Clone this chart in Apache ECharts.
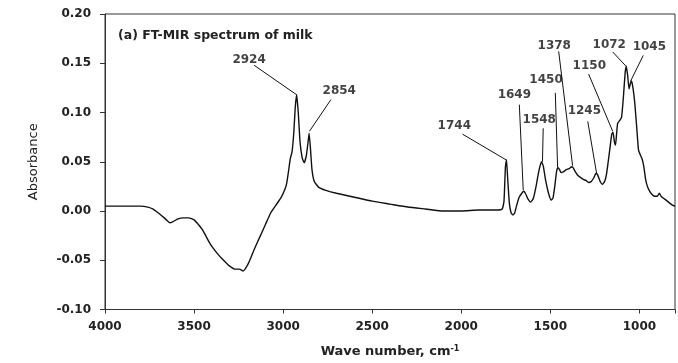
<!DOCTYPE html>
<html>
<head>
<meta charset="utf-8">
<script src="https://cdn.jsdelivr.net/npm/echarts@6/dist/echarts.min.js"></script>
<style>
html,body{margin:0;padding:0;background:#fff;overflow:hidden;}
#chart{width:678px;height:363px;}
</style>
</head>
<body>
<div id="chart"></div>
<script>
// Spectrum (wavenumber cm-1, absorbance)
const waveNumbers = [4000,3900,3800,3760,3730,3700,3680,3655,3635,3620,3590,3560,3530,3500,3470,3450,3420,3400,3370,3340,3300,3270,3245,3225,3200,3180,3160,3130,3100,3070,3040,3010,2990,2980,2970,2960,2950,2940,2932,2924,2915,2905,2893,2882,2870,2860,2854,2846,2838,2825,2800,2760,2700,2600,2500,2400,2300,2200,2100,2000,1900,1800,1770,1760,1752,1746,1740,1730,1720,1710,1700,1690,1675,1660,1650,1640,1625,1610,1595,1580,1565,1550,1540,1525,1510,1495,1485,1475,1465,1457,1448,1440,1425,1410,1395,1380,1372,1360,1345,1330,1315,1300,1285,1270,1255,1245,1235,1220,1208,1195,1185,1175,1165,1155,1148,1140,1134,1128,1122,1110,1100,1090,1080,1074,1066,1058,1050,1044,1036,1026,1015,1005,995,985,975,965,955,945,930,915,900,888,878,865,850,830,815,800];
const absorbance = [0.005,0.005,0.005,0.004,0.002,-0.002,-0.005,-0.009,-0.012,-0.011,-0.008,-0.007,-0.007,-0.009,-0.015,-0.020,-0.030,-0.036,-0.043,-0.049,-0.056,-0.059,-0.059,-0.061,-0.055,-0.047,-0.038,-0.026,-0.014,-0.002,0.006,0.014,0.022,0.028,0.040,0.053,0.060,0.080,0.105,0.118,0.100,0.070,0.054,0.049,0.056,0.070,0.079,0.062,0.042,0.030,0.024,0.021,0.018,0.014,0.010,0.007,0.004,0.002,0.000,0.000,0.001,0.001,0.002,0.010,0.045,0.052,0.035,0.008,-0.002,-0.004,-0.002,0.005,0.014,0.018,0.020,0.018,0.012,0.009,0.013,0.025,0.040,0.050,0.046,0.030,0.018,0.011,0.013,0.025,0.040,0.044,0.042,0.039,0.040,0.042,0.043,0.045,0.044,0.040,0.036,0.034,0.032,0.031,0.029,0.030,0.034,0.038,0.037,0.030,0.027,0.030,0.037,0.050,0.064,0.078,0.080,0.070,0.067,0.078,0.089,0.092,0.095,0.115,0.140,0.147,0.138,0.124,0.130,0.132,0.125,0.110,0.085,0.062,0.057,0.053,0.045,0.032,0.025,0.021,0.017,0.015,0.015,0.018,0.015,0.013,0.011,0.008,0.006,0.005];

// Peak annotations
const peakLabels = ['2924','2854','1744','1649','1548','1450','1378','1245','1150','1072','1045'];
const leaderStartX = [3163,2732,1993,1674,1540,1472,1453,1290,1285,1150,978];
const leaderStartY = [0.148,0.113,0.078,0.108,0.084,0.120,0.162,0.091,0.139,0.1615,0.158];
const leaderEndX   = [2924,2852,1749,1652,1544,1459,1375,1240,1150,1075,1049];
const leaderEndY   = [0.118,0.081,0.052,0.021,0.050,0.044,0.046,0.038,0.081,0.147,0.132];
const labelX = [3191,2685,2039,1702,1562,1524,1478,1309,1281,1169,944];
const labelY = [0.153,0.1223,0.0862,0.1182,0.0929,0.1334,0.168,0.1014,0.1476,0.169,0.1666];

// Axis settings
const xMin = 800, xMax = 4000;
const yMin = -0.10, yMax = 0.20, yStep = 0.05;
const xLabelStep = 500;

const chart = echarts.init(document.getElementById('chart'));
const spectrum = waveNumbers.map((w, i) => [w, absorbance[i]]);
const leaders = peakLabels.map((n, i) => ({coords: [[leaderStartX[i], leaderStartY[i]], [leaderEndX[i], leaderEndY[i]]]}));
const labels = peakLabels.map((n, i) => ({name: n, value: [labelX[i], labelY[i]]}));
const font = 'DejaVu Sans';

chart.setOption({
  animation: false,
  title: {
    text: '(a) FT-MIR spectrum of milk',
    left: 118, top: 29, padding: 0,
    textStyle: {fontFamily: font, fontSize: 12.5, fontWeight: 'bold', color: '#222'}
  },
  grid: {left: 105, width: 571, top: 14, height: 297, show: true, borderColor: '#333', borderWidth: 1},
  xAxis: {
    type: 'value', inverse: true, min: xMin, max: xMax, splitNumber: 6,
    name: 'Wave number, cm{sup|-1}', nameLocation: 'middle', nameGap: 35,
    nameTextStyle: {fontFamily: font, fontSize: 13, fontWeight: 'bold', color: '#222',
      rich: {sup: {fontFamily: font, fontSize: 8, fontWeight: 'bold', verticalAlign: 'top', padding: [0,0,6,0]}}},
    axisLine: {onZero: false, lineStyle: {color: '#333', width: 1}},
    axisTick: {show: true, inside: false, length: 4, lineStyle: {color: '#333'}},
    axisLabel: {margin: 11, fontFamily: font, fontSize: 12, fontWeight: 'bold', color: '#222',
      formatter: v => (v % xLabelStep === 0 ? String(v) : '')},
    splitLine: {show: false}
  },
  yAxis: {
    type: 'value', min: yMin, max: yMax, interval: yStep,
    name: 'Absorbance', nameLocation: 'middle', nameGap: 65,
    nameTextStyle: {fontFamily: font, fontSize: 13, color: '#222'},
    axisLine: {show: true, onZero: false, lineStyle: {color: '#333', width: 1}},
    axisTick: {show: true, inside: false, length: 5, lineStyle: {color: '#333'}},
    axisLabel: {margin: 14, fontFamily: font, fontSize: 12, fontWeight: 'bold', color: '#222',
      formatter: v => v.toFixed(2)},
    splitLine: {show: false}
  },
  series: [
    {
      type: 'line', data: spectrum, showSymbol: false, symbol: 'none',
      lineStyle: {color: '#111', width: 1.4}, smooth: 0.15
    },
    {
      type: 'lines', coordinateSystem: 'cartesian2d', data: leaders,
      lineStyle: {color: '#111', width: 1, opacity: 1}, symbol: 'none', silent: true
    },
    {
      type: 'scatter', data: labels, symbolSize: 0, silent: true,
      label: {show: true, position: 'inside', formatter: p => p.name,
        fontFamily: font, fontSize: 12, fontWeight: 'bold', color: '#111'}
    }
  ]
});
</script>
</body>
</html>
